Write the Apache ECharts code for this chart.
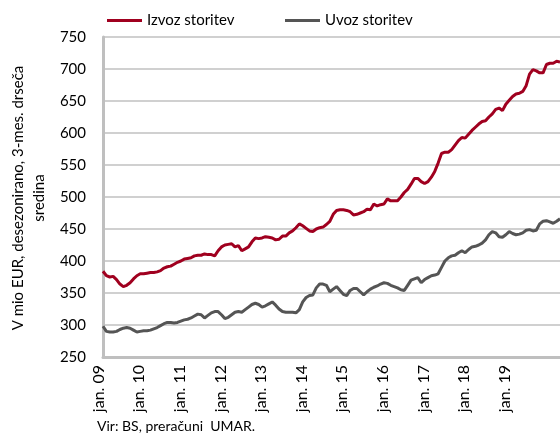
<!DOCTYPE html>
<html>
<head>
<meta charset="utf-8">
<script src="https://cdn.jsdelivr.net/npm/echarts@6/dist/echarts.min.js"></script>
<style>
  html, body { margin: 0; padding: 0; background: #fff; }
  #chart { width: 560px; height: 439px; }
</style>
</head>
<body>
<div id="chart"></div>
<script>
// mesecni podatki, jan. 2009 - apr. 2020
var years = ['09','10','11','12','13','14','15','16','17','18','19','20'];
var months = ['jan.','feb.','mar.','apr.','maj','jun.','jul.','avg.','sep.','okt.','nov.','dec.'];
var nMonths = 136;

var izvoz = [
  384,377,375,376,371,364,360,362,366,372,377,380,
  380,381,382,382,383,385,389,391,392,395,398,400,
  403,404,405,408,409,409,411,410,410,408,416,422,
  425,426,427,422,424,416,419,422,430,436,435,436,
  438,437,436,433,434,439,439,444,447,452,458,455,
  451,447,446,450,452,453,457,462,473,479,480,480,
  479,477,472,473,475,477,481,480,489,486,488,489,
  497,494,494,494,500,507,512,520,529,529,524,521,
  524,531,540,553,568,570,570,574,581,588,593,592,
  598,604,609,614,618,619,625,630,637,639,635,645,
  651,657,661,662,665,674,692,699,697,694,694,707,
  709,709,712,711
];
var uvoz = [
  298,290,289,289,290,293,295,296,295,292,289,290,
  291,291,292,294,296,299,302,304,304,303,304,306,
  308,309,311,314,317,316,311,315,319,321,321,316,
  310,312,316,320,321,320,324,328,332,334,332,328,
  330,333,336,331,325,321,320,320,320,319,324,336,
  343,346,347,358,364,364,362,352,356,360,354,348,
  346,354,357,357,352,347,352,356,359,361,364,366,
  365,362,360,358,355,354,362,370,372,374,366,371,
  374,377,378,380,390,400,405,408,409,413,416,413,
  418,422,423,425,428,433,441,446,444,438,437,441,
  446,443,441,442,444,448,449,447,448,458,462,463,
  461,459,462,466
];

var categories = [];
for (var i = 0; i < nMonths; i++) {
  categories.push(months[i % 12] + ' ' + years[Math.floor(i / 12)]);
}

var font = 'Lato, "Open Sans", sans-serif';
var legendText = { fontSize: 15, color: '#000', fontFamily: font };
var myChart = echarts.init(document.getElementById('chart'));
var option = {
  backgroundColor: '#fff',
  animation: false,
  textStyle: { fontFamily: font },
  legend: [
    {
      left: 102, top: 8, itemWidth: 35, itemHeight: 3, icon: 'rect',
      textStyle: legendText, data: ['Izvoz storitev']
    },
    {
      left: 280, top: 8, itemWidth: 35, itemHeight: 3, icon: 'rect',
      textStyle: legendText, data: ['Uvoz storitev']
    }
  ],
  grid: { left: 103, right: 0, top: 37, bottom: 82 },
  xAxis: {
    type: 'category',
    boundaryGap: false,
    data: categories,
    axisLine: { lineStyle: { color: '#bfbfbf', width: 3 } },
    axisTick: { show: false },
    axisLabel: {
      rotate: 90,
      margin: 8,
      color: '#000',
      interval: function (idx) { return idx % 12 === 0 && idx < 125; },
      formatter: function (v) { return '{a|' + v + '}\n{b|}'; },
      rich: {
        a: { fontSize: 16, lineHeight: 18, fontFamily: font, color: '#000' },
        b: { fontSize: 8, lineHeight: 9 }
      }
    },
    splitLine: { show: false }
  },
  yAxis: {
    type: 'value',
    min: 250,
    max: 750,
    interval: 50,
    axisLine: { show: true, lineStyle: { color: '#bfbfbf', width: 3 } },
    axisTick: { show: false },
    axisLabel: { fontSize: 15, color: '#000', margin: 17, fontFamily: font },
    splitLine: { lineStyle: { color: '#d0d0d0', width: 2 } }
  },
  graphic: [
    {
      type: 'text',
      x: 29,
      y: 198,
      rotation: Math.PI / 2,
      style: {
        text: 'V mio EUR, desezonirano, 3-mes. drseča\nsredina',
        textAlign: 'center',
        textVerticalAlign: 'middle',
        fontSize: 15,
        lineHeight: 21,
        fill: '#000',
        fontFamily: font
      }
    },
    {
      type: 'text',
      left: 97,
      top: 419,
      style: {
        text: 'Vir: BS, preračuni  UMAR.',
        fontSize: 14,
        fill: '#000',
        fontFamily: font
      }
    }
  ],
  series: [
    {
      name: 'Izvoz storitev',
      type: 'line',
      data: izvoz,
      showSymbol: false,
      itemStyle: { color: '#a0001f' },
      lineStyle: { color: '#a0001f', width: 3 }
    },
    {
      name: 'Uvoz storitev',
      type: 'line',
      data: uvoz,
      showSymbol: false,
      itemStyle: { color: '#555555' },
      lineStyle: { color: '#555555', width: 3 }
    }
  ]
};
myChart.setOption(option);
</script>
</body>
</html>
